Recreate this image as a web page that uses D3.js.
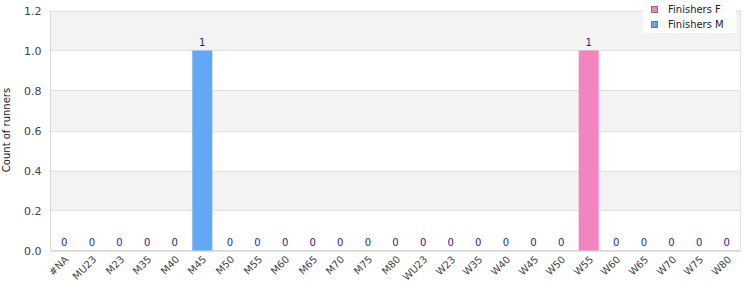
<!DOCTYPE html>
<html><head><meta charset="utf-8">
<script src="https://cdn.jsdelivr.net/npm/d3@7"></script>
<style>body{margin:0;background:#fff;} #wrap{position:relative;width:750px;height:300px;overflow:hidden;} svg{display:block;font-family:"DejaVu Sans",sans-serif;}
.xl{position:absolute;font-family:"DejaVu Sans",sans-serif;font-size:10px;color:#444;white-space:nowrap;line-height:12px;transform:rotate(-45deg);transform-origin:100% 50%;text-align:right;}
</style>
</head><body><div id="wrap"><svg id="c" width="750" height="300"></svg></div>
<script>
const categories = ["#NA","MU23","M23","M35","M40","M45","M50","M55","M60","M65","M70","M75","M80","WU23","W23","W35","W40","W45","W50","W55","W60","W65","W70","W75","W80"];
const finishersF = [0,0,0,0,0,0,0,0,0,0,0,0,0,0,0,0,0,0,0,1,0,0,0,0,0];
const finishersM = [0,0,0,0,0,1,0,0,0,0,0,0,0,0,0,0,0,0,0,0,0,0,0,0,0];
const seriesNames = ["Finishers F","Finishers M"];
const yTicks = [0,0.2,0.4,0.6,0.8,1.0,1.2];
const colors = {"Finishers F":"#f285bf","Finishers M":"#62a8f4"};

const svg = d3.select("#c");
const m = {l:50.5, r:740.5, t:10.5, b:250.5};
const x = d3.scaleBand().domain(categories).range([m.l, m.r]).paddingInner(0.275).paddingOuter(0.1375);
const y = d3.scaleLinear().domain([0,1.2]).range([m.b, m.t]);

// bands
for (let i=0;i<yTicks.length-1;i++){
  if (i%2===1){
    svg.append("rect").attr("x",m.l).attr("width",m.r-m.l)
      .attr("y",y(yTicks[i+1])).attr("height",y(yTicks[i])-y(yTicks[i+1])).attr("fill","#f3f3f3");
  }
}
// grid lines
svg.append("g").selectAll("line").data(yTicks).join("line")
  .attr("x1",m.l).attr("x2",m.r).attr("y1",d=>Math.round(y(d))+0.5).attr("y2",d=>Math.round(y(d))+0.5)
  .attr("stroke","#e0e0e0").attr("stroke-width",1);
// frame
svg.append("line").attr("x1",m.r).attr("x2",m.r).attr("y1",m.t).attr("y2",m.b).attr("stroke","#e0e0e0");
svg.append("line").attr("x1",m.l).attr("x2",m.l).attr("y1",m.t).attr("y2",m.b).attr("stroke","#d8d8d8");
svg.append("line").attr("x1",m.l).attr("x2",m.r).attr("y1",m.b).attr("y2",m.b).attr("stroke","#d8d8d8");

// y axis
const ya = d3.axisLeft(y).tickValues(yTicks).tickFormat(d3.format(".1f")).tickSize(0).tickPadding(9);
const yg = svg.append("g").attr("transform",`translate(${m.l},0)`).call(ya);
yg.select(".domain").remove();
yg.selectAll("text").attr("font-size",11).attr("fill","#444").attr("font-family","DejaVu Sans");

// x axis labels (HTML, rotated -45deg, right end anchored at tick)
const W = 60;
d3.select("#wrap").selectAll("div.xl").data(categories).join("div").attr("class","xl")
  .style("width",W+"px")
  .style("left",d=>(x(d)+x.bandwidth()/2+3-W)+"px")
  .style("top",(m.b+7-6)+"px")
  .text(d=>d);

// stacked data
const rows = categories.map((c,i)=>({cat:c,"Finishers F":finishersF[i],"Finishers M":finishersM[i]}));
const stack = d3.stack().keys(seriesNames)(rows);
svg.append("g").selectAll("g").data(stack).join("g").attr("fill",d=>colors[d.key])
  .selectAll("rect").data(d=>d).join("rect")
  .attr("x",d=>x(d.data.cat)).attr("width",x.bandwidth())
  .attr("y",d=>y(d[1])).attr("height",d=>y(d[0])-y(d[1]));

// value labels
svg.append("g").selectAll("text").data(rows).join("text")
  .attr("x",d=>x(d.cat)+x.bandwidth()/2)
  .attr("y",d=>y(d["Finishers F"]+d["Finishers M"])-5)
  .attr("text-anchor","middle").attr("font-size",10).attr("fill","#1f1f8f")
  .text(d=>d["Finishers F"]+d["Finishers M"]);

// y label
svg.append("text").attr("transform","translate(10,130) rotate(-90)").attr("text-anchor","middle")
  .attr("font-size",10).attr("fill","#222").text("Count of runners");

// legend
const lg = svg.append("g");
lg.append("rect").attr("x",643).attr("y",0).attr("width",93).attr("height",33).attr("fill","#fff");
seriesNames.forEach((s,i)=>{
  lg.append("rect").attr("x",651.5).attr("y",6.5+i*15).attr("width",6).attr("height",6)
    .attr("fill",colors[s]).attr("stroke","#777").attr("stroke-width",1);
  lg.append("text").attr("x",668).attr("y",12.5+i*15).attr("font-size",10).attr("fill","#222").text(s);
});
</script></body></html>
